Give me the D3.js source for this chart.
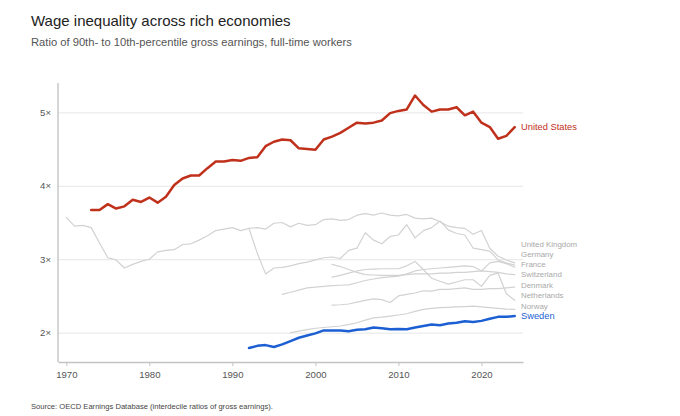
<!DOCTYPE html>
<html>
<head>
<meta charset="utf-8">
<script src="https://cdn.jsdelivr.net/npm/d3@7"></script>
<style>
  html, body { margin: 0; padding: 0; background: #fff; }
  svg { display: block; font-family: "Liberation Sans", Arial, Helvetica, sans-serif; }
</style>
</head>
<body>
<svg id="chart" width="680" height="416"></svg>
<script>
// ---- data ----
const yTicks = [2, 3, 4, 5];
const xTicks = [1970, 1980, 1990, 2000, 2010, 2020];

const usStart = 1973;
const usValues = [3.67,3.67,3.75,3.69,3.72,3.81,3.78,3.84,3.77,3.85,4.01,4.10,4.14,4.14,4.24,4.33,4.33,4.35,4.34,4.38,4.39,4.54,4.60,4.63,4.62,4.51,4.50,4.49,4.63,4.67,4.72,4.79,4.86,4.85,4.86,4.89,4.99,5.02,5.04,5.23,5.10,5.01,5.04,5.04,5.07,4.96,5.01,4.86,4.80,4.64,4.68,4.80];

const ukStart = 1970;
const ukValues = [3.57,3.45,3.46,3.43,3.22,3.02,2.99,2.88,2.93,2.97,3.00,3.10,3.12,3.13,3.20,3.21,3.26,3.32,3.39,3.41,3.43,3.39,3.42,3.43,3.41,3.49,3.50,3.44,3.49,3.46,3.47,3.54,3.55,3.53,3.54,3.60,3.62,3.60,3.63,3.60,3.59,3.61,3.56,3.55,3.56,3.51,3.45,3.43,3.42,3.34,3.39,3.15,3.04,2.99,2.95];

const deStart = 1992;
const deValues = [3.42,3.08,2.80,2.88,2.89,2.91,2.94,2.96,2.99,3.02,3.03,3.01,3.12,3.15,3.36,3.26,3.21,3.31,3.33,3.47,3.29,3.39,3.43,3.52,3.40,3.35,3.33,3.15,3.13,3.11,2.99,2.95,2.92];

const frStart = 1996;
const frValues = [2.52,2.55,2.58,2.61,2.62,2.63,2.64,2.645,2.65,2.68,2.71,2.73,2.75,2.76,2.77,2.80,2.84,2.86,2.87,2.88,2.89,2.90,2.91,2.90,2.84,2.95,2.97,2.94,2.89];

const chStart = 2002;
const chValues = [2.93,2.90,2.86,2.82,2.79,2.785,2.78,2.78,2.78,2.79,2.80,2.80,2.80,2.81,2.81,2.82,2.82,2.83,2.84,2.83,2.82,2.80,2.79];

const nlStart = 2002;
const nlValues = [2.755,2.78,2.81,2.84,2.86,2.865,2.87,2.87,2.87,2.91,2.97,2.86,2.74,2.70,2.66,2.69,2.72,2.72,2.63,2.78,2.81,2.53,2.44];

const dkStart = 2002;
const dkValues = [2.375,2.38,2.39,2.415,2.44,2.46,2.45,2.41,2.50,2.52,2.54,2.57,2.565,2.59,2.59,2.60,2.61,2.59,2.59,2.60,2.60,2.61,2.62];

const noStart = 1997;
const noValues = [2.00,2.02,2.04,2.06,2.07,2.08,2.09,2.11,2.135,2.17,2.20,2.21,2.225,2.24,2.257,2.29,2.316,2.33,2.34,2.345,2.35,2.355,2.36,2.35,2.34,2.33,2.32,2.316];

const seStart = 1992;
const seValues = [1.79,1.82,1.83,1.805,1.84,1.885,1.93,1.96,1.99,2.03,2.03,2.03,2.02,2.04,2.045,2.07,2.06,2.045,2.05,2.045,2.07,2.09,2.11,2.10,2.125,2.135,2.155,2.145,2.16,2.19,2.215,2.215,2.225];

const labelOrderBottomUp = ["Sweden", "Norway", "Netherlands", "Denmark", "Switzerland", "France", "Germany", "United Kingdom"];

(function () {
  function toPoints(start, vals) { return vals.map((v, i) => ({ year: start + i, value: v })); }
  const series = [
    { name: "United Kingdom", pts: toPoints(ukStart, ukValues), kind: "gray" },
    { name: "Germany", pts: toPoints(deStart, deValues), kind: "gray" },
    { name: "France", pts: toPoints(frStart, frValues), kind: "gray" },
    { name: "Switzerland", pts: toPoints(chStart, chValues), kind: "gray" },
    { name: "Denmark", pts: toPoints(dkStart, dkValues), kind: "gray" },
    { name: "Netherlands", pts: toPoints(nlStart, nlValues), kind: "gray" },
    { name: "Norway", pts: toPoints(noStart, noValues), kind: "gray" },
    { name: "Sweden", pts: toPoints(seStart, seValues), kind: "se" },
    { name: "United States", pts: toPoints(usStart, usValues), kind: "us" }
  ];

  const colors = { gray: "#d2d2d2", se: "#1b5fd2", us: "#c0311c" };
  const labelColors = { gray: "#a9a9a9", se: "#1b5fd2", us: "#c0311c" };

  const svg = d3.select("#chart");
  const mLeft = 58, mRight = 523, mTop = 83, mBottom = 362;

  const x = d3.scaleLinear().domain([1969, 2025]).range([mLeft, mRight]);
  const y = d3.scaleLinear().domain([1.6, 5.4]).range([mBottom, mTop]);

  svg.append("text").attr("x", 31).attr("y", 25.5)
    .attr("font-size", 15).attr("fill", "#222").text("Wage inequality across rich economies");
  svg.append("text").attr("x", 31).attr("y", 46)
    .attr("font-size", 11.2).attr("fill", "#555").text("Ratio of 90th- to 10th-percentile gross earnings, full-time workers");
  svg.append("text").attr("x", 31).attr("y", 408.5)
    .attr("font-size", 7.6).attr("fill", "#444").text("Source: OECD Earnings Database (interdecile ratios of gross earnings).");

  const yAxis = d3.axisLeft(y).tickValues(yTicks).tickSize(-(mRight - mLeft)).tickFormat(d => d + "\u00d7").tickPadding(7);
  const gy = svg.append("g").attr("transform", `translate(${mLeft},0)`).call(yAxis);
  gy.select(".domain").remove();
  gy.selectAll(".tick line").attr("stroke", "#e6e6e6").attr("stroke-width", 1);
  gy.selectAll(".tick text").attr("fill", "#555").attr("font-size", 9.6)
    .attr("font-family", "Liberation Sans, Arial, sans-serif");

  svg.append("line").attr("x1", mLeft).attr("x2", mLeft).attr("y1", mTop).attr("y2", mBottom)
    .attr("stroke", "#c4c4c4").attr("stroke-width", 1.4);

  const xAxis = d3.axisBottom(x).tickValues(xTicks).tickFormat(d3.format("d")).tickSize(4).tickSizeOuter(0).tickPadding(5);
  const gx = svg.append("g").attr("transform", `translate(0,${mBottom})`).call(xAxis);
  gx.select(".domain").attr("stroke", "#c4c4c4").attr("stroke-width", 1.4);
  gx.selectAll(".tick line").attr("stroke", "#c4c4c4");
  gx.selectAll(".tick text").attr("fill", "#555").attr("font-size", 9.6)
    .attr("font-family", "Liberation Sans, Arial, sans-serif");

  const line = d3.line().x(d => x(d.year)).y(d => y(d.value));
  ["gray", "se", "us"].forEach(k => {
    series.filter(s => s.kind === k).forEach(s => {
      svg.append("path").datum(s.pts)
        .attr("d", line)
        .attr("fill", "none")
        .attr("stroke", colors[k])
        .attr("stroke-width", k === "gray" ? 1.2 : 2.5)
        .attr("stroke-linejoin", "round")
        .attr("stroke-linecap", "round");
    });
  });

  const labelX = 521;
  const lowGroup = series.filter(s => s.kind !== "us").map(s => ({
    s, yv: y(s.pts[s.pts.length - 1].value)
  }));
  let prev = Infinity;
  labelOrderBottomUp.forEach(name => {
    const item = lowGroup.find(d => d.s.name === name);
    const yy = Math.min(item.yv, prev - 10.2);
    item.ly = yy;
    prev = yy;
  });
  lowGroup.forEach(d => {
    const big = d.s.kind !== "gray";
    svg.append("text").attr("x", labelX).attr("y", d.ly).attr("dy", "0.35em")
      .attr("font-size", big ? 9.3 : 7.9)
      .attr("fill", labelColors[d.s.kind]).text(d.s.name);
  });
  const us = series.find(s => s.kind === "us");
  svg.append("text").attr("x", labelX).attr("y", y(us.pts[us.pts.length - 1].value)).attr("dy", "0.35em")
    .attr("font-size", 9.3).attr("fill", labelColors.us).text(us.name);
})();
</script>
</body>
</html>
